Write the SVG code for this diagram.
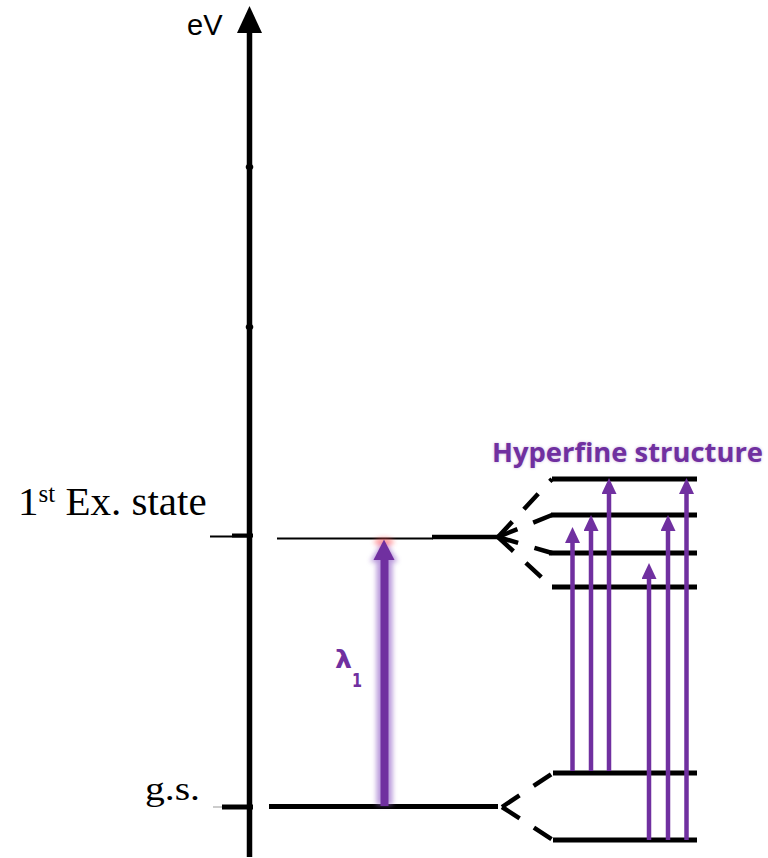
<svg xmlns="http://www.w3.org/2000/svg" width="768" height="858" viewBox="0 0 768 858">
<style>
.lvl{stroke:#000;stroke-width:5;fill:none}
.dash{stroke:#000;stroke-width:4.5;fill:none;stroke-dasharray:21 17}
.hf{stroke:#7030A0;stroke-width:4.5;fill:none}
.serif{font-family:"Liberation Serif","Times New Roman",serif;fill:#000}
.sans{font-family:"Liberation Sans",Arial,sans-serif;fill:#000}
.purple{font-family:"Open Sans","Liberation Sans",Arial,sans-serif;font-weight:bold;fill:#7030A0}
.lam{font-family:"DejaVu Sans","Liberation Sans",Arial,sans-serif;font-weight:bold;fill:#7030A0}
</style>
<defs>
<marker id="ph" markerUnits="userSpaceOnUse" markerWidth="16" markerHeight="15" refX="4" refY="7.5" orient="auto" viewBox="0 0 16 15">
<path d="M0,0 L16,7.5 L0,15 z" fill="#7030A0"/>
</marker>
<filter id="blur" x="-2" y="-0.2" width="5" height="1.4">
<feGaussianBlur stdDeviation="2.5"/>
</filter>
<filter id="tblur" x="-0.1" y="-0.3" width="1.2" height="1.6">
<feGaussianBlur stdDeviation="1.5"/>
</filter>
</defs>

<g id="axis">
<line x1="249.5" y1="857" x2="249.5" y2="30" stroke="#000" stroke-width="5.5"/>
<polygon points="249.5,6 262,33 237,33" fill="#000"/>
<ellipse cx="249.5" cy="167" rx="3.8" ry="3" fill="#000"/>
<ellipse cx="249.5" cy="327" rx="3.8" ry="3" fill="#000"/>
<text class="sans" x="187" y="35" font-size="29">eV</text>
</g>

<g id="tick-excited">
<line x1="210" y1="536.5" x2="250" y2="536.5" stroke="#000" stroke-width="2"/>
<line x1="232" y1="535.5" x2="253" y2="535.5" stroke="#000" stroke-width="4"/>
</g>
<g id="tick-gs">
<line x1="213" y1="807" x2="222" y2="807" stroke="#bbb" stroke-width="1.5"/>
<line x1="222" y1="807" x2="253" y2="807" stroke="#000" stroke-width="5"/>
</g>

<g id="label-excited">
<text class="serif" x="18" y="515" font-size="41">1<tspan font-size="25" dy="-13">st</tspan><tspan dy="13"> Ex. state</tspan></text>
</g>
<g id="label-gs">
<text class="serif" x="145" y="800" font-size="34" textLength="55" lengthAdjust="spacingAndGlyphs">g.s.</text>
</g>

<g id="level-excited">
<line x1="277" y1="538.5" x2="433" y2="538.5" stroke="#000" stroke-width="2"/>
<line x1="432" y1="537" x2="498" y2="537" stroke="#000" stroke-width="4.5"/>
</g>
<g id="level-gs">
<line class="lvl" x1="269" y1="806.5" x2="498" y2="806.5" stroke-width="4.5"/>
</g>

<g id="hyperfine-levels">
<line class="lvl" x1="552" y1="479" x2="697" y2="479"/>
<line class="lvl" x1="551" y1="515" x2="697" y2="515"/>
<line class="lvl" x1="549" y1="553" x2="697" y2="553"/>
<line class="lvl" x1="552" y1="587" x2="697" y2="587"/>
<line class="lvl" x1="553" y1="773" x2="697" y2="773"/>
<line class="lvl" x1="553" y1="840" x2="697" y2="840"/>
</g>

<g id="label-hyperfine">
<text class="purple" x="492" y="462" font-size="27" textLength="271" lengthAdjust="spacingAndGlyphs" opacity="0.35" filter="url(#tblur)">Hyperfine structure</text>
<text class="purple" x="492" y="462" font-size="27" textLength="271" lengthAdjust="spacingAndGlyphs">Hyperfine structure</text>
</g>

<g id="label-lambda">
<text class="lam" x="335" y="668" font-size="24" textLength="17" lengthAdjust="spacingAndGlyphs">λ</text>
<text class="lam" x="352" y="687" font-size="20" textLength="10" lengthAdjust="spacingAndGlyphs">1</text>
</g>

<g id="connectors">
<g id="fan-excited">
<line class="dash" x1="498" y1="537" x2="552" y2="479"/>
<line class="dash" x1="498" y1="537" x2="552" y2="515"/>
<line class="dash" x1="498" y1="537" x2="552" y2="553"/>
<line class="dash" x1="498" y1="537" x2="552" y2="587"/>
</g>
<g id="fan-gs">
<line class="dash" x1="502" y1="807" x2="553" y2="773"/>
<line class="dash" x1="502" y1="807" x2="553" y2="840"/>
</g>
<g id="arrow-lambda1">
<g filter="url(#blur)" opacity="0.7">
<line x1="384.5" y1="805" x2="384.5" y2="556" stroke="#9c6fcc" stroke-width="16"/>
<polygon points="384,539 398,562 370,562" fill="#9c6fcc"/>
<ellipse cx="384" cy="542" rx="10" ry="4" fill="#ff5050" opacity="0.8"/>
</g>
<line x1="384.5" y1="806" x2="384.5" y2="556" stroke="#7030A0" stroke-width="8"/>
<polygon points="384,539.5 394.5,560 373.5,560" fill="#7030A0"/>
</g>
<g id="hf-arrows">
<line class="hf" x1="572.5" y1="771" x2="572.5" y2="539" marker-end="url(#ph)"/>
<line class="hf" x1="591" y1="771" x2="591" y2="527" marker-end="url(#ph)"/>
<line class="hf" x1="609" y1="771" x2="609" y2="490" marker-end="url(#ph)"/>
<line class="hf" x1="649" y1="840" x2="649" y2="575" marker-end="url(#ph)"/>
<line class="hf" x1="668" y1="840" x2="668" y2="527" marker-end="url(#ph)"/>
<line class="hf" x1="686.5" y1="840" x2="686.5" y2="490" marker-end="url(#ph)"/>
</g>
</g>
</svg>
